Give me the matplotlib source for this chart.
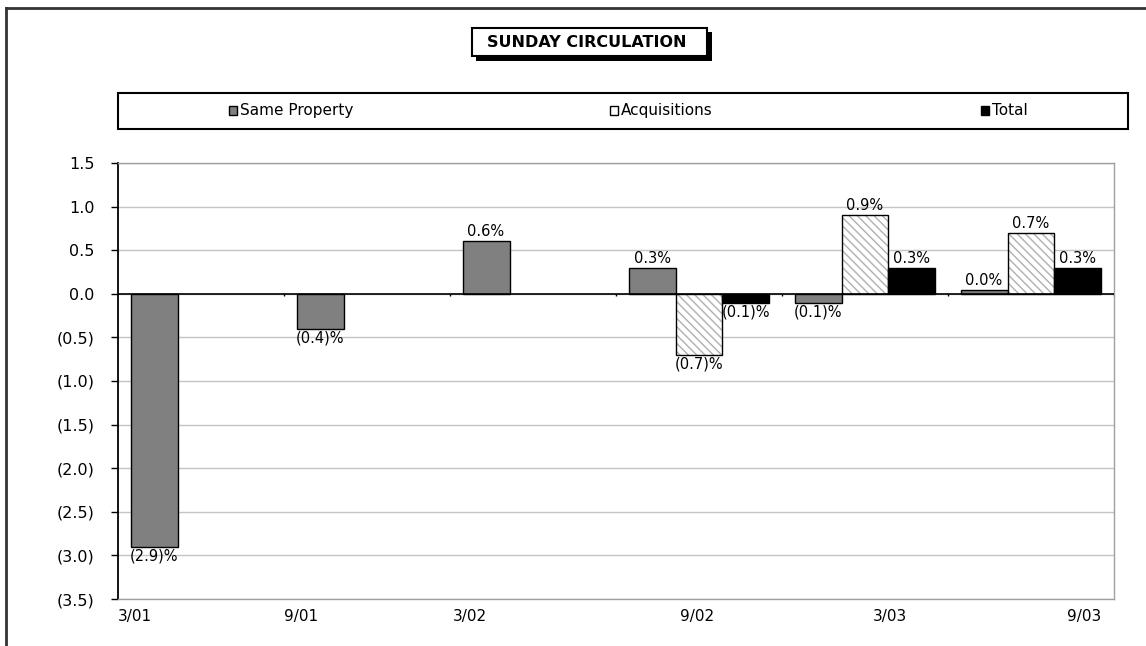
import matplotlib
matplotlib.use("Agg")
import matplotlib.pyplot as plt
from matplotlib.patches import Rectangle
from matplotlib.lines import Line2D
import numpy as np

# Semi-annual Sunday circulation change (%)
periods = ["3/01", "9/01", "3/02", "9/02", "3/03", "9/03"]
same_property = [-2.9, -0.4, 0.6, 0.3, -0.1, 0.04]
acquisitions = [None, None, None, -0.7, 0.9, 0.7]
total = [None, None, None, -0.1, 0.3, 0.3]
series_names = ["Same Property", "Acquisitions", "Total"]
y_ticks = [1.5, 1.0, 0.5, 0.0, -0.5, -1.0, -1.5, -2.0, -2.5, -3.0, -3.5]
period_label_x = [-0.40, 0.60, 1.62, 2.99, 4.15, 5.32]

plt.rcParams["font.family"] = ["DejaVu Sans"]
plt.rcParams["hatch.linewidth"] = 1.0

W, H = 1146, 646
fig = plt.figure(figsize=(W / 100, H / 100), dpi=100)


def fx(px):
    return px / W


def fy(py):
    return 1 - py / H


def pct(v):
    return f"({abs(v):.1f})%" if round(v, 1) < 0 else f"{v:.1f}%"


def y_fmt(v):
    return f"({abs(v):.1f})" if v < 0 else f"{v:.1f}"


ax = fig.add_axes([fx(118), fy(599), 996 / W, 436 / H])
x = np.arange(len(periods))
bw = 0.283

grey = "#808080"
hatch_grey = "#b0b0b0"
label_size = 10.5


def present(vals, offset):
    idx = [i for i, v in enumerate(vals) if v is not None]
    return x[idx] + offset, [vals[i] for i in idx]


# Same Property
xs, hs = present(same_property, -bw)
b1 = ax.bar(xs, hs, bw, color=grey, edgecolor="black", linewidth=1, zorder=2)
ax.bar_label(b1, labels=[pct(v) for v in hs], padding=1.5, fontsize=label_size)

# Acquisitions (hatched fill, then black outline)
xs, hs = present(acquisitions, 0)
ax.bar(xs, hs, bw, color="white", edgecolor=hatch_grey, hatch="\\\\\\\\",
       linewidth=0, zorder=2)
b2 = ax.bar(xs, hs, bw, fill=False, edgecolor="black", linewidth=1, zorder=2.1)
ax.bar_label(b2, labels=[pct(v) for v in hs], padding=1.5, fontsize=label_size)

# Total
xs, hs = present(total, bw)
b3 = ax.bar(xs, hs, bw, color="black", edgecolor="black", linewidth=1, zorder=2)
ax.bar_label(b3, labels=[pct(v) for v in hs], padding=1.5, fontsize=label_size)

ax.set_xlim(-0.5, len(periods) - 0.5)
ax.set_ylim(-3.5, 1.5)
ax.set_yticks(y_ticks, [y_fmt(v) for v in y_ticks])
ax.yaxis.grid(True, color="#c4c4c4", linewidth=1)
ax.set_axisbelow(True)

# Category axis at zero with boundary ticks
ax.axhline(0, color="black", linewidth=1.2, zorder=3)
ax.vlines(np.arange(0.5, len(periods), 1), -0.03, 0, color="black",
          linewidth=1, zorder=3)

ax.set_xticks(period_label_x, periods)
ax.tick_params(axis="x", length=0, pad=7, labelsize=11)
ax.tick_params(axis="y", length=5, width=1, pad=12, labelsize=11.5,
               direction="out")

for side in ("top", "right", "bottom"):
    ax.spines[side].set_color("#a0a0a0")
    ax.spines[side].set_linewidth(1)
ax.spines["left"].set_color("black")
ax.spines["left"].set_linewidth(1.3)

# Outer frame
fig.add_artist(Line2D([fx(6), fx(6)], [fy(8), 0], color="#333333", lw=2))
fig.add_artist(Line2D([fx(6), 1], [fy(8), fy(8)], color="#333333", lw=2))

# Title box with drop shadow
fig.add_artist(Rectangle((fx(476), fy(61)), (712 - 476) / W, (61 - 32) / H,
                         transform=fig.transFigure, facecolor="black",
                         edgecolor="none"))
fig.add_artist(Rectangle((fx(472), fy(56)), (707 - 472) / W, (56 - 28) / H,
                         transform=fig.transFigure, facecolor="white",
                         edgecolor="black", linewidth=1.5))
fig.text(fx(587), fy(42.5), "SUNDAY CIRCULATION", ha="center", va="center",
         fontsize=11.5, fontweight="bold")

# Legend box
fig.add_artist(Rectangle((fx(118), fy(129)), (1128 - 118) / W, (129 - 93) / H,
                         transform=fig.transFigure, facecolor="white",
                         edgecolor="black", linewidth=1.5))
legend_styles = [
    dict(facecolor=grey, edgecolor="black"),
    dict(facecolor="white", edgecolor="black"),
    dict(facecolor="black", edgecolor="black"),
]
marker_px = [229, 610, 981]
for name, style, mx in zip(series_names, legend_styles, marker_px):
    fig.add_artist(Rectangle((fx(mx), fy(114.5)), 8 / W, 8 / H,
                             transform=fig.transFigure, linewidth=1, **style))
    fig.text(fx(mx + 11), fy(110.5), name, ha="left", va="center",
             fontsize=11)

fig.savefig("out.png", dpi=100, facecolor="white")
